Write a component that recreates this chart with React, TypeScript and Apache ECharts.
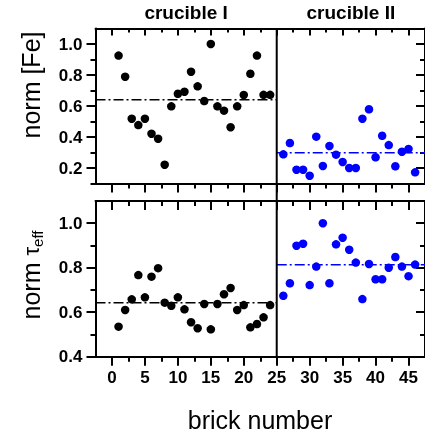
import React, { useEffect, useRef } from "react";
import * as echarts from "echarts";

const bricksI = [1, 2, 3, 4, 5, 6, 7, 8, 9, 10, 11, 12, 13, 14, 15, 16, 17, 18, 19, 20, 21, 22, 23, 24];
const bricksII = [26, 27, 28, 29, 30, 31, 32, 33, 34, 35, 36, 37, 38, 39, 40, 41, 42, 43, 44, 45, 46];
const feI = [0.925, 0.789, 0.518, 0.477, 0.518, 0.421, 0.389, 0.221, 0.598, 0.679, 0.692, 0.821, 0.727, 0.632, 1.0, 0.598, 0.57, 0.463, 0.598, 0.671, 0.808, 0.925, 0.672, 0.672];
const feII = [0.288, 0.361, 0.189, 0.189, 0.15, 0.402, 0.213, 0.342, 0.286, 0.239, 0.2, 0.2, 0.518, 0.579, 0.269, 0.408, 0.348, 0.211, 0.305, 0.323, 0.172];
const tauI = [0.535, 0.61, 0.658, 0.767, 0.667, 0.76, 0.798, 0.643, 0.629, 0.667, 0.613, 0.555, 0.528, 0.637, 0.523, 0.637, 0.681, 0.709, 0.61, 0.632, 0.532, 0.547, 0.577, 0.632];
const tauII = [0.674, 0.73, 0.899, 0.908, 0.722, 0.805, 1.0, 0.73, 0.905, 0.935, 0.881, 0.823, 0.659, 0.817, 0.748, 0.748, 0.8, 0.848, 0.805, 0.762, 0.814];
const meanFeI = 0.64;
const meanFeII = 0.298;
const meanTauI = 0.643;
const meanTauII = 0.813;
const dividerX = 25;

const X_MIN = -2.5;
const X_MAX = 47.5;
const xMajor = [0, 5, 10, 15, 20, 25, 30, 35, 40, 45];
const xMinor = [2.5, 7.5, 12.5, 17.5, 22.5, 27.5, 32.5, 37.5, 42.5];
const FE_MIN = 0.1;
const FE_MAX = 1.1;
const feMajor = [0.2, 0.4, 0.6, 0.8, 1.0];
const feMinor = [0.1, 0.3, 0.5, 0.7, 0.9];
const TAU_MIN = 0.4;
const TAU_MAX = 1.1;
const tauMajor = [0.4, 0.6, 0.8, 1.0];
const tauMinor = [0.5, 0.7, 0.9];

const FONT = "Liberation Sans, Arial, sans-serif";
const BLUE = "#0000ff";

function xAx(grid: number, position: string, values: number[], len: number, inside: boolean, labels: boolean, line: boolean) {
  return {
    type: "value", gridIndex: grid, position, min: X_MIN, max: X_MAX,
    axisLine: { show: line, onZero: false, lineStyle: { color: "#000", width: 2 } },
    axisTick: { show: true, inside, length: len, customValues: values, lineStyle: { color: "#000", width: 2 } },
    axisLabel: { show: labels, customValues: values, margin: 12, color: "#000", fontFamily: FONT, fontWeight: "bold", fontSize: 17 },
    splitLine: { show: false },
  };
}
function yAx(grid: number, position: string, min: number, max: number, values: number[], len: number, inside: boolean, labels: boolean, line: boolean) {
  return {
    type: "value", gridIndex: grid, position, min, max,
    axisLine: { show: line, onZero: false, lineStyle: { color: "#000", width: 2 } },
    axisTick: { show: true, inside, length: len, customValues: values, lineStyle: { color: "#000", width: 2 } },
    axisLabel: { show: labels, customValues: values, margin: 13, color: "#000", fontFamily: FONT, fontWeight: "bold", fontSize: 17, formatter: (v: number) => v.toFixed(1) },
    splitLine: { show: false },
  };
}

const dashDot = [10, 3, 2, 3];

export default function App() {
  const ref = useRef<HTMLDivElement>(null);
  useEffect(() => {
    if (!ref.current) return;
    const chart = echarts.init(ref.current, null, { renderer: "svg" });
    const grid0 = { left: 95.5, top: 28.5, width: 332, height: 155 };
    const grid1 = { left: 95.5, top: 201, width: 332, height: 155.7 };
    const scatter = (xi: number, yi: number, xs: number[], ys: number[], color: string) => ({
      type: "scatter", xAxisIndex: xi, yAxisIndex: yi, symbolSize: 8.5, z: 5,
      itemStyle: { color, opacity: 1 }, data: xs.map((x, i) => [x, ys[i]]), silent: true,
    });
    const mean = (xi: number, yi: number, x0: number, x1: number, v: number, color: string) => ({
      type: "line", xAxisIndex: xi, yAxisIndex: yi, showSymbol: false, symbol: "none", z: 3,
      lineStyle: { color, width: 1.5, type: dashDot }, data: [[x0, v], [x1, v]], silent: true,
    });
    chart.setOption({
      animation: false,
      grid: [grid0, grid1],
      xAxis: [
        xAx(0, "bottom", xMajor, 9, false, false, true),
        xAx(0, "bottom", xMinor, 5, false, false, false),
        xAx(0, "top", xMajor, 7, true, false, true),
        xAx(0, "top", xMinor, 4, true, false, false),
        xAx(1, "bottom", xMajor, 9, false, true, true),
        xAx(1, "bottom", xMinor, 5, false, false, false),
        xAx(1, "top", xMajor, 9, true, false, true),
        xAx(1, "top", xMinor, 5, true, false, false),
      ],
      yAxis: [
        yAx(0, "left", FE_MIN, FE_MAX, feMajor, 9, false, true, true),
        yAx(0, "left", FE_MIN, FE_MAX, feMinor, 5, false, false, false),
        yAx(0, "right", FE_MIN, FE_MAX, feMajor, 9, true, false, true),
        yAx(0, "right", FE_MIN, FE_MAX, feMinor, 5, true, false, false),
        yAx(1, "left", TAU_MIN, TAU_MAX, tauMajor, 9, false, true, true),
        yAx(1, "left", TAU_MIN, TAU_MAX, tauMinor, 5, false, false, false),
        yAx(1, "right", TAU_MIN, TAU_MAX, tauMajor, 9, true, false, true),
        yAx(1, "right", TAU_MIN, TAU_MAX, tauMinor, 5, true, false, false),
      ],
      series: [
        mean(0, 0, X_MIN, dividerX, meanFeI, "#000"),
        mean(0, 0, dividerX, X_MAX, meanFeII, BLUE),
        mean(4, 4, X_MIN, dividerX, meanTauI, "#000"),
        mean(4, 4, dividerX, X_MAX, meanTauII, BLUE),
        scatter(0, 0, bricksI, feI, "#000"),
        scatter(0, 0, bricksII, feII, BLUE),
        scatter(4, 4, bricksI, tauI, "#000"),
        scatter(4, 4, bricksII, tauII, BLUE),
      ],
    });
    const pTop = chart.convertToPixel({ xAxisIndex: 0, yAxisIndex: 0 }, [dividerX, FE_MAX]) as number[];
    const pBot = chart.convertToPixel({ xAxisIndex: 4, yAxisIndex: 4 }, [dividerX, TAU_MIN]) as number[];
    const midI = chart.convertToPixel({ xAxisIndex: 0, yAxisIndex: 0 }, [(X_MIN + dividerX) / 2, FE_MAX]) as number[];
    const midII = chart.convertToPixel({ xAxisIndex: 0, yAxisIndex: 0 }, [(dividerX + X_MAX) / 2, FE_MAX]) as number[];
    chart.setOption({
      graphic: [
        { type: "line", shape: { x1: pTop[0], y1: pTop[1], x2: pBot[0], y2: pBot[1] }, style: { stroke: "#000", lineWidth: 2 }, z: 10 },
        { type: "text", x: midI[0], y: 12, style: { text: "crucible I", font: `bold 19px ${FONT}`, fill: "#000", align: "center", verticalAlign: "middle" } },
        { type: "text", x: midII[0], y: 12, style: { text: "crucible II", font: `bold 19px ${FONT}`, fill: "#000", align: "center", verticalAlign: "middle" } },
        { type: "text", x: 31, y: 85, rotation: Math.PI / 2, style: { text: "norm [Fe]", font: `25px ${FONT}`, fill: "#000", align: "center", verticalAlign: "middle" } },
        {
          type: "text", x: 31, y: 275, rotation: Math.PI / 2,
          style: {
            text: "{n|norm }{t|τ}{s|eff}", align: "center", verticalAlign: "middle",
            rich: {
              n: { font: `25px ${FONT}`, fill: "#000" },
              t: { font: `22px ${FONT}`, fill: "#000" },
              s: { font: `15px ${FONT}`, fill: "#000", padding: [12, 0, 0, 0] },
            },
          },
        },
        { type: "text", x: 260, y: 420, style: { text: "brick number", font: `25px ${FONT}`, fill: "#000", align: "center", verticalAlign: "middle" } },
      ],
    });
    return () => chart.dispose();
  }, []);
  return <div ref={ref} style={{ position: "fixed", left: 0, top: 0, width: 425, height: 438 }} />;
}
